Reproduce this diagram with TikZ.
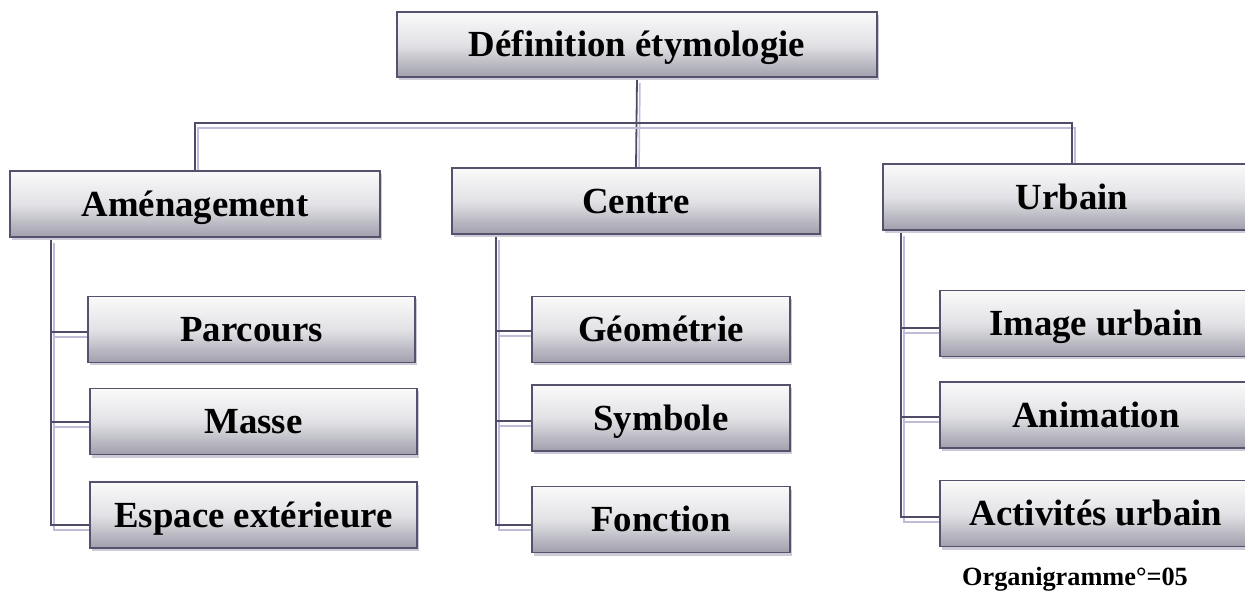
\documentclass[tikz,border=0pt]{standalone}
\usepackage{fontspec}
\setmainfont{Liberation Serif}
\usetikzlibrary{shadows,backgrounds}
\definecolor{boxline}{RGB}{85,82,110}
\definecolor{boxbot}{RGB}{160,159,172}
\definecolor{boxmid}{RGB}{226,226,230}
\definecolor{boxtop}{RGB}{250,250,250}
\definecolor{linkdark}{RGB}{80,76,104}
\definecolor{linklight}{RGB}{192,188,216}
\definecolor{shadowc}{RGB}{205,203,216}
\tikzset{
  box/.style={draw=boxline, line width=1.6pt, top color=boxtop, bottom color=boxbot, middle color=boxmid,
    inner sep=0pt, minimum height=66pt, text=black,
    font=\bfseries\fontsize{36.8}{40}\selectfont, text height=30pt, text depth=5.6pt,
    drop shadow={shadow xshift=2pt, shadow yshift=-3pt, fill=shadowc, opacity=1}},
  link/.style={draw=linkdark, line width=1.8pt,
    preaction={draw=linklight, line width=1.5pt, transform canvas={xshift=3pt,yshift=-5pt}}},
  caption/.style={font=\bfseries\fontsize{26.3}{30}\selectfont, inner sep=0pt, text=black}
}
\begin{document}
\begin{tikzpicture}[x=1pt,y=-1pt]
\useasboundingbox (0,0) rectangle (1245,593);
\clip (0,0) rectangle (1245,593);

\node[box, minimum width=480pt, minimum height=65pt] (top) at (637,44.5) {Définition étymologie};

\node[box, minimum width=370pt] (am) at (195,204) {Aménagement};
\node[box, minimum width=368pt] (cen) at (636,201) {Centre};
\node[box, minimum width=378pt] (urb) at (1072,197) {Urbain};

\node[box, minimum width=327pt] (par) at (251.5,329.5) {Parcours};
\node[box, minimum width=327pt] (mas) at (253.5,421.5) {Masse};
\node[box, minimum width=327pt] (esp) at (253.5,515) {Espace extérieure};

\node[box, minimum width=258pt] (geo) at (661,329.5) {Géométrie};
\node[box, minimum width=258pt] (sym) at (661,418) {Symbole};
\node[box, minimum width=258pt] (fon) at (661,519.5) {Fonction};

\node[box, minimum width=312pt] (img) at (1096,323.5) {Image urbain};
\node[box, minimum width=312pt] (ani) at (1096,415) {Animation};
\node[box, minimum width=312pt] (act) at (1096,513.5) {Activités urbain};

\node[caption, anchor=base] (cap) at (1075,585) {Organigramme°=05};

\begin{scope}[on background layer]
  \fill[white] (0,0) rectangle (1245,593);
  \coordinate (bar) at (636,123);
  \draw[link] (top.south) -- (cen.north);
  \draw[link] (am.north) |- (bar) -| (urb.north);

  \coordinate (amT) at ([xshift=42pt]am.south west);
  \draw[link] (amT) |- ([yshift=-10pt]esp.west);
  \draw[link] ([yshift=-2.5pt]par.west) -- ++(-36,0);
  \draw[link] ([yshift=-0.5pt]mas.west) -- ++(-38,0);

  \coordinate (cenT) at ([xshift=45pt]cen.south west);
  \draw[link] (cenT) |- ([yshift=-5.5pt]fon.west);
  \draw[link] ([yshift=-1.5pt]geo.west) -- ++(-35,0);
  \draw[link] ([yshift=-3pt]sym.west) -- ++(-35,0);

  \coordinate (urbT) at ([xshift=19pt]urb.south west);
  \draw[link] (urbT) |- ([yshift=-3.5pt]act.west);
  \draw[link] ([yshift=-4.5pt]img.west) -- ++(-38,0);
  \draw[link] ([yshift=-2pt]ani.west) -- ++(-38,0);
\end{scope}
\end{tikzpicture}
\end{document}
